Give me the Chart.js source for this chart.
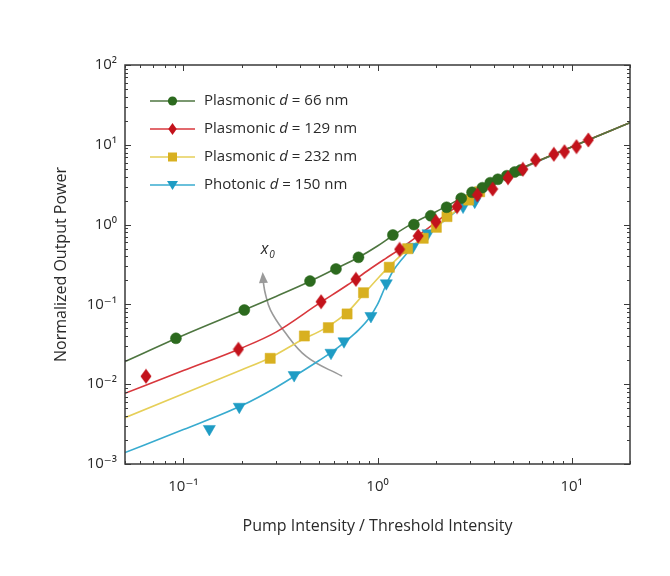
<!DOCTYPE html>
<html><head><meta charset="utf-8">
<script src="https://cdn.jsdelivr.net/npm/chart.js@4/dist/chart.umd.min.js"></script>
<style>html,body{margin:0;padding:0;background:#fff;}#wrap{width:670px;height:576px;}</style>
</head><body><div id="wrap"><canvas id="c" width="670" height="576"></canvas></div>
<script>
// ---------- labels ----------
const xTitle = "Pump Intensity / Threshold Intensity";
const yTitle = "Normalized Output Power";
const seriesKind = ["Plasmonic", "Plasmonic", "Plasmonic", "Photonic"];
const seriesD = [66, 129, 232, 150];
const arrowLabel = "x";
const arrowSub = "0";
const xRange = [0.05, 20];
const yRange = [0.001, 100];

// ---------- measured points ----------
const d66X = [0.0915, 0.206, 0.449, 0.611, 0.798, 1.20, 1.54, 1.88, 2.27, 2.70, 3.07, 3.47, 3.81, 4.17, 4.64, 5.09, 5.46];
const d66Y = [0.0376, 0.0851, 0.196, 0.278, 0.389, 0.741, 1.00, 1.29, 1.65, 2.14, 2.54, 2.90, 3.35, 3.70, 4.10, 4.56, 4.83];
const d129X = [0.0641, 0.192, 0.512, 0.774, 1.30, 1.62, 2.00, 2.57, 3.27, 3.92, 4.70, 5.61, 6.52, 8.10, 9.19, 10.6, 12.2];
const d129Y = [0.01256, 0.0274, 0.108, 0.206, 0.490, 0.72, 1.09, 1.68, 2.35, 2.79, 3.87, 4.93, 6.45, 7.60, 8.19, 9.47, 11.5];
const d232X = [0.280, 0.420, 0.558, 0.697, 0.847, 1.15, 1.43, 1.72, 2.01, 2.28, 2.95, 3.36];
const d232Y = [0.0211, 0.0402, 0.0511, 0.0759, 0.140, 0.292, 0.499, 0.674, 0.925, 1.26, 2.03, 2.58];
const ph150X = [0.136, 0.194, 0.372, 0.576, 0.672, 0.925, 1.11, 1.52, 1.82, 2.76, 3.17];
const ph150Y = [0.00275, 0.00522, 0.0130, 0.0248, 0.0345, 0.0716, 0.184, 0.528, 0.778, 1.68, 1.94];

// ---------- fitted curves ----------
const fit66X = [0.05, 0.1, 0.2, 0.3, 0.45, 0.6, 0.8, 1.0, 1.2, 1.5, 2, 3, 5, 10, 20];
const fit66Y = [0.0192, 0.041, 0.083, 0.126, 0.195, 0.275, 0.39, 0.54, 0.73, 1.02, 1.45, 2.45, 4.55, 9.4, 18.9];
const fit129X = [0.05, 0.1, 0.2, 0.3, 0.5, 0.7, 0.9, 1.1, 1.3, 1.6, 2, 2.5, 3, 5, 10, 20];
const fit129Y = [0.0077, 0.0148, 0.0285, 0.045, 0.103, 0.175, 0.27, 0.375, 0.49, 0.71, 1.07, 1.62, 2.2, 4.5, 9.4, 18.9];
const fit232X = [0.05, 0.1, 0.2, 0.28, 0.4, 0.55, 0.7, 0.85, 1.0, 1.15, 1.4, 1.7, 2.0, 2.5, 3, 5, 10, 20];
const fit232Y = [0.0038, 0.0076, 0.0152, 0.0215, 0.035, 0.052, 0.080, 0.135, 0.21, 0.30, 0.47, 0.67, 0.92, 1.45, 2.1, 4.45, 9.4, 18.9];
const fit150X = [0.05, 0.1, 0.2, 0.3, 0.4, 0.5, 0.6, 0.7, 0.8, 0.9, 1.0, 1.1, 1.2, 1.35, 1.5, 1.7, 2.0, 2.5, 3, 5, 10, 20];
const fit150Y = [0.00139, 0.0027, 0.0054, 0.0091, 0.0140, 0.0198, 0.0268, 0.036, 0.048, 0.066, 0.10, 0.17, 0.26, 0.38, 0.51, 0.68, 0.93, 1.42, 2.05, 4.4, 9.4, 18.9];

// ---------- x0 arrow (annotation) ----------
const arcX = [0.653, 0.431, 0.327, 0.281, 0.264, 0.2584];
const arcY = [0.0127, 0.0221, 0.0478, 0.085, 0.138, 0.1854];
const arcTip = [0.256, 0.255];

const pts = (xs, ys) => xs.map((x, i) => ({x: x, y: ys[i]}));

const markerColors = ['#2c6a1e', '#c3121b', '#d8b020', '#1f9cc4'];
const lineColors = ['#4e7640', '#d8373c', '#e6cf58', '#38abcf'];

function diamondCanvas(color) {
  const c = document.createElement('canvas');
  c.width = 12; c.height = 16;
  const g = c.getContext('2d');
  g.fillStyle = color;
  g.beginPath(); g.moveTo(6, 0.5); g.lineTo(11.5, 8); g.lineTo(6, 15.5); g.lineTo(0.5, 8); g.closePath(); g.fill();
  return c;
}
const diamond = diamondCanvas(markerColors[1]);

const markerStyles = [
  {pointStyle: 'circle', pointRadius: 5.5, rotation: 0},
  {pointStyle: diamond, pointRadius: 6, rotation: 0},
  {pointStyle: 'rect', pointRadius: 7.2, rotation: 0},
  {pointStyle: 'triangle', pointRadius: 7, rotation: 180}
];

function fitDs(xs, ys, i) {
  return {type: 'scatter', data: pts(xs, ys), showLine: true, borderColor: lineColors[i], borderWidth: 1.6,
    pointRadius: 0, cubicInterpolationMode: 'monotone', fill: false, order: 10 + i};
}
function markDs(xs, ys, i, order) {
  const m = markerStyles[i];
  return {type: 'scatter', data: pts(xs, ys), showLine: false, pointStyle: m.pointStyle, pointRadius: m.pointRadius,
    rotation: m.rotation, backgroundColor: markerColors[i], borderColor: markerColors[i], borderWidth: 0.5, order: order};
}

const datasets = [
  fitDs(fit150X, fit150Y, 3), fitDs(fit232X, fit232Y, 2), fitDs(fit66X, fit66Y, 0), fitDs(fit129X, fit129Y, 1),
  {type: 'scatter', data: pts(arcX, arcY), showLine: true, borderColor: '#9a9a9a', borderWidth: 1.6, pointRadius: 0, tension: 0.4, order: 20},
  markDs(ph150X, ph150Y, 3, 4), markDs(d232X, d232Y, 2, 3), markDs(d66X, d66Y, 0, 2), markDs(d129X, d129Y, 1, 1)
];

const supMap = {'-': '\u207B', '0': '\u2070', '1': '\u00B9', '2': '\u00B2', '3': '\u00B3'};
function powLabel(v) {
  const e = Math.log10(v);
  const r = Math.round(e);
  if (Math.abs(e - r) > 1e-6) return '';
  return '10' + String(r).split('').map(c => supMap[c]).join('');
}

const FONT = '"Open Sans", "DejaVu Sans", sans-serif';
const TXT = '#2a2a2a';

const decor = {
  id: 'decor',
  afterDraw(chart) {
    const ctx = chart.ctx, a = chart.chartArea, xs = chart.scales.x, ys = chart.scales.y;
    ctx.save();
    // frame
    ctx.strokeStyle = '#3a3a3a'; ctx.lineWidth = 1.5;
    ctx.strokeRect(a.left, a.top, a.right - a.left, a.bottom - a.top);
    // ticks (inside, all four sides)
    ctx.lineWidth = 1;
    ctx.beginPath();
    for (let k = -3; k <= 2; k++) {
      for (let m = 1; m <= 9; m++) {
        const v = m * Math.pow(10, k);
        const len = m === 1 ? 6 : 3;
        if (v >= xRange[0] - 1e-12 && v <= xRange[1] + 1e-12) {
          const p = Math.round(xs.getPixelForValue(v)) + 0.5;
          ctx.moveTo(p, a.bottom); ctx.lineTo(p, a.bottom - len);
          ctx.moveTo(p, a.top); ctx.lineTo(p, a.top + len);
        }
        if (v >= yRange[0] - 1e-12 && v <= yRange[1] + 1e-12) {
          const p = Math.round(ys.getPixelForValue(v)) + 0.5;
          ctx.moveTo(a.left, p); ctx.lineTo(a.left + len, p);
          ctx.moveTo(a.right, p); ctx.lineTo(a.right - len, p);
        }
      }
    }
    ctx.stroke();
    // arrow head
    const bx = xs.getPixelForValue(arcX[arcX.length - 1]), by = ys.getPixelForValue(arcY[arcY.length - 1]);
    const tx = xs.getPixelForValue(arcTip[0]), ty = ys.getPixelForValue(arcTip[1]);
    const ang = Math.atan2(ty - by, tx - bx);
    const hw = 4.5;
    ctx.fillStyle = '#9a9a9a';
    ctx.beginPath();
    ctx.moveTo(tx, ty);
    ctx.lineTo(bx + Math.cos(ang + Math.PI / 2) * hw, by + Math.sin(ang + Math.PI / 2) * hw);
    ctx.lineTo(bx - Math.cos(ang + Math.PI / 2) * hw, by - Math.sin(ang + Math.PI / 2) * hw);
    ctx.closePath(); ctx.fill();
    // x0 label
    ctx.fillStyle = TXT; ctx.textBaseline = 'alphabetic'; ctx.textAlign = 'left';
    ctx.font = 'italic 16px ' + FONT;
    ctx.fillText(arrowLabel, tx - 2, ty - 18);
    const w = ctx.measureText(arrowLabel).width;
    ctx.font = 'italic 10px ' + FONT;
    ctx.fillText(arrowSub, tx - 1 + w, ty - 14);
    // legend
    const order = [0, 1, 2, 3];
    const rowY = [101, 129, 157, 185];
    order.forEach((si, r) => {
      const y = rowY[r];
      ctx.strokeStyle = lineColors[si]; ctx.lineWidth = 1.6;
      ctx.beginPath(); ctx.moveTo(150, y); ctx.lineTo(195, y); ctx.stroke();
      drawMarker(ctx, si, 172.5, y);
      ctx.fillStyle = TXT; ctx.textBaseline = 'middle';
      let x = 204;
      ctx.font = '15px ' + FONT;
      const t1 = seriesKind[si] + ' ';
      ctx.fillText(t1, x, y); x += ctx.measureText(t1).width;
      ctx.font = 'italic 15px ' + FONT;
      ctx.fillText('d', x, y); x += ctx.measureText('d').width;
      ctx.font = '15px ' + FONT;
      ctx.fillText(' = ' + seriesD[si] + ' nm', x, y);
    });
    ctx.restore();
  }
};

function drawMarker(ctx, si, x, y) {
  ctx.save();
  ctx.fillStyle = markerColors[si];
  ctx.beginPath();
  if (si === 0) { ctx.arc(x, y, 4.6, 0, Math.PI * 2); }
  else if (si === 1) { ctx.moveTo(x, y - 6); ctx.lineTo(x + 4.2, y); ctx.lineTo(x, y + 6); ctx.lineTo(x - 4.2, y); ctx.closePath(); }
  else if (si === 2) { ctx.rect(x - 4.5, y - 4.5, 9, 9); }
  else { ctx.moveTo(x - 5.5, y - 4); ctx.lineTo(x + 5.5, y - 4); ctx.lineTo(x, y + 5); ctx.closePath(); }
  ctx.fill();
  ctx.restore();
}

new Chart(document.getElementById('c'), {
  type: 'scatter',
  data: {datasets: datasets},
  options: {
    responsive: false, animation: false, devicePixelRatio: 1,
    layout: {padding: {left: 45, top: 65, right: 40, bottom: 40}},
    plugins: {legend: {display: false}, tooltip: {enabled: false}},
    elements: {line: {borderCapStyle: 'round'}},
    scales: {
      x: {
        type: 'logarithmic', position: 'bottom', min: xRange[0], max: xRange[1],
        grid: {display: false, drawTicks: false}, border: {display: false},
        ticks: {autoSkip: false, maxRotation: 0, padding: 14, color: TXT, font: {family: FONT, size: 15}, callback: v => powLabel(v)},
        title: {display: true, text: xTitle, color: TXT, font: {family: FONT, size: 16}, padding: {top: 6, bottom: 0}},
        afterFit: s => { s.height = 72; }
      },
      y: {
        type: 'logarithmic', position: 'left', min: yRange[0], max: yRange[1],
        grid: {display: false, drawTicks: false}, border: {display: false},
        ticks: {autoSkip: false, padding: 8, color: TXT, font: {family: FONT, size: 15}, callback: v => powLabel(v)},
        title: {display: true, text: yTitle, color: TXT, font: {family: FONT, size: 16}, padding: {top: 7, bottom: 0}},
        afterFit: s => { s.width = 80; }
      }
    }
  },
  plugins: [decor]
});
</script>
</body></html>
